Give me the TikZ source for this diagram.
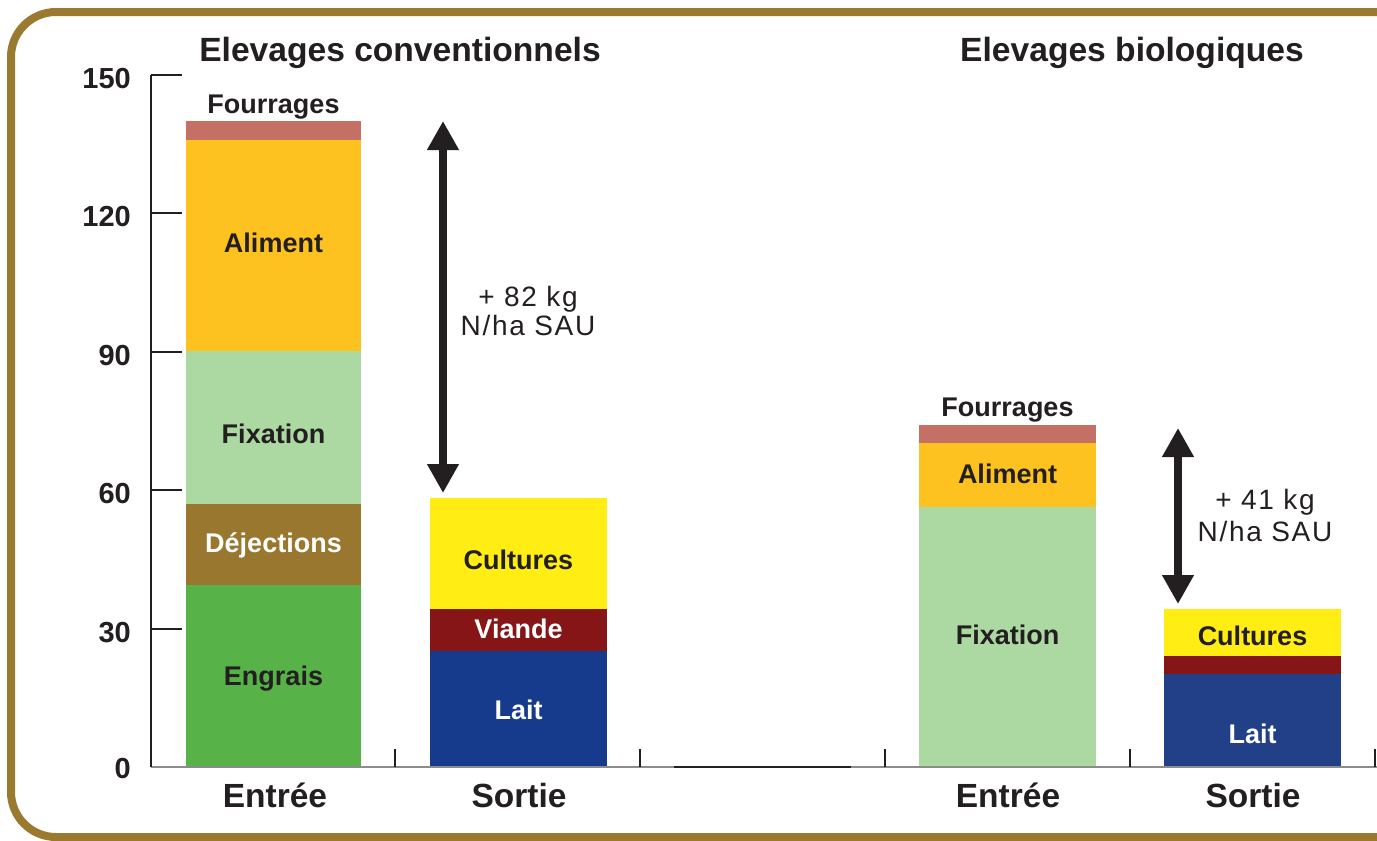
\documentclass[tikz,border=0pt]{standalone}
\usepackage{fontspec}
\setmainfont{Liberation Sans}
\usetikzlibrary{arrows.meta}
\definecolor{frame}{RGB}{154,122,46}
\definecolor{ink}{RGB}{35,31,32}
\definecolor{cFourrages}{RGB}{196,112,100}
\definecolor{cAliment}{RGB}{253,194,32}
\definecolor{cFixation}{RGB}{172,216,162}
\definecolor{cDejections}{RGB}{154,119,46}
\definecolor{cEngrais}{RGB}{87,179,71}
\definecolor{cCultures}{RGB}{255,237,20}
\definecolor{cViande}{RGB}{134,21,24}
\definecolor{cLait}{RGB}{22,58,140}
\definecolor{cLaitBio}{RGB}{34,64,136}
\definecolor{axisgray}{RGB}{140,140,140}
\begin{document}
\begin{tikzpicture}[x=1pt,y=-1pt,
  seglabel/.style={font=\fontsize{27pt}{27pt}\selectfont\bfseries, text=ink, anchor=base, inner sep=0pt},
  whitelabel/.style={seglabel, text=white},
  header/.style={font=\fontsize{33.6pt}{33.6pt}\selectfont\bfseries, text=ink, anchor=base, inner sep=0pt},
  ticklab/.style={font=\fontsize{29pt}{29pt}\selectfont\bfseries, text=ink, anchor=base east, inner sep=0pt},
  catlab/.style={font=\fontsize{33.5pt}{33.5pt}\selectfont\bfseries, text=ink, anchor=base, inner sep=0pt},
  note/.style={font=\fontsize{28pt}{28pt}\selectfont\addfontfeature{LetterSpace=6}, text=ink, anchor=base, inner sep=0pt},
  bigarrow/.style={draw=ink, line width=8pt, {Triangle[width=30pt,length=29pt]}-{Triangle[width=30pt,length=29pt]}},
  yaxis/.style={draw=ink, line width=1.3pt},
  cattick/.style={draw=ink, line width=1.3pt},
]
\useasboundingbox (0,0) rectangle (1377,841);
\fill[white] (0,0) rectangle (1377,841);

% frame
\begin{scope}
  \clip (0,0) rectangle (1377,841);
  \draw[frame, line width=8pt, rounded corners=45pt] (11,12) rectangle (1430,837);
\end{scope}

% headers
\node[header] (h1) at (400,61) {Elevages conventionnels};
\node[header] (h2) at (1132,61) {Elevages biologiques};

% bar 1: conventional entrée
\fill[cEngrais]    (186,767) rectangle (361,585);
\fill[cDejections] (186,585) rectangle (361,504);
\fill[cFixation]   (186,504) rectangle (361,351);
\fill[cAliment]    (186,351) rectangle (361,140);
\fill[cFourrages]  (186,140) rectangle (361,121);
\node[seglabel] (b1four) at (273.5,113) {Fourrages};
\node[seglabel] (b1ali)  at (273.5,252) {Aliment};
\node[seglabel] (b1fix)  at (273.5,443) {Fixation};
\node[whitelabel] (b1dej) at (273.5,552) {Déjections};
\node[seglabel] (b1eng)  at (273.5,685) {Engrais};

% bar 2: conventional sortie
\fill[cLait]     (430,767) rectangle (607,651);
\fill[cViande]   (430,651) rectangle (607,609);
\fill[cCultures] (430,609) rectangle (607,498);
\node[seglabel]   (b2cul)  at (518.5,569) {Cultures};
\node[whitelabel] (b2via)  at (518.5,638) {Viande};
\node[whitelabel] (b2lait) at (518.5,719) {Lait};

% bar 4: bio entrée
\fill[cFixation]  (919,767) rectangle (1096,507);
\fill[cAliment]   (919,507) rectangle (1096,443);
\fill[cFourrages] (919,443) rectangle (1096,425);
\node[seglabel] (b4four) at (1007.5,416) {Fourrages};
\node[seglabel] (b4ali)  at (1007.5,483) {Aliment};
\node[seglabel] (b4fix)  at (1007.5,644) {Fixation};

% bar 5: bio sortie
\fill[cLaitBio]  (1164,767) rectangle (1341,674);
\fill[cViande]   (1164,674) rectangle (1341,656);
\fill[cCultures] (1164,656) rectangle (1341,609);
\node[seglabel]   (b5cul)  at (1252.5,645) {Cultures};
\node[whitelabel] (b5lait) at (1252.5,743) {Lait};

% axes
\draw[axisgray, line width=1.5pt] (151,767) -- (1377,767);
\draw[ink, line width=2pt] (674,767) -- (851,767);
\draw[yaxis] (151,75) -- (151,767);
\foreach \yy in {75,213,352,490,629} \draw[yaxis] (151,\yy) -- (182,\yy);
\foreach \xx in {395,640,885,1130,1375} \draw[cattick] (\xx,749) -- (\xx,767);

% tick labels
\node[ticklab] (t150) at (131,88)  {150};
\node[ticklab] (t120) at (131,226) {120};
\node[ticklab] (t90)  at (131,365) {90};
\node[ticklab] (t60)  at (131,503) {60};
\node[ticklab] (t30)  at (131,642) {30};
\node[ticklab] (t0)   at (131,778) {0};

% category labels
\node[catlab] (c1) at (275,807)  {Entrée};
\node[catlab] (c2) at (519,807)  {Sortie};
\node[catlab] (c4) at (1008,807) {Entrée};
\node[catlab] (c5) at (1253,807) {Sortie};

% difference arrows
\coordinate (a1top) at (443,121);
\coordinate (a1bot) at (443,493);
\draw[bigarrow] (a1top) -- (a1bot);
\node[note] (n1a) at (528,306) {+ 82 kg};
\node[note] (n1b) at (528,335) {N/ha SAU};

\coordinate (a2top) at (1178,428);
\coordinate (a2bot) at (1178,604);
\draw[bigarrow] (a2top) -- (a2bot);
\node[note] (n2a) at (1265,509) {+ 41 kg};
\node[note] (n2b) at (1265,541) {N/ha SAU};
\end{tikzpicture}
\end{document}
